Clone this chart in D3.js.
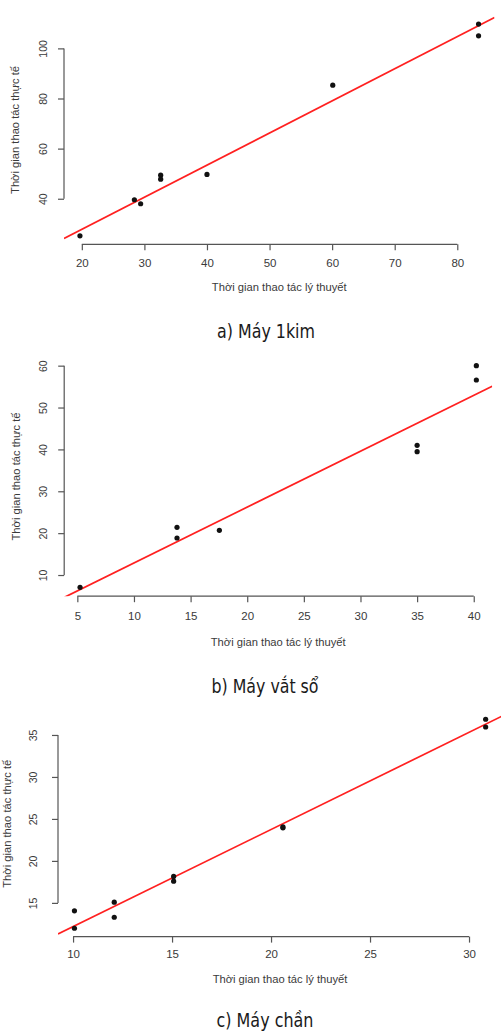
<!DOCTYPE html>
<html><head><meta charset="utf-8">
<script src="https://cdn.jsdelivr.net/npm/d3@7"></script>
<style>
html,body{margin:0;padding:0;background:#fff;}
svg{display:block;}
</style></head>
<body>
<svg id="chart" width="501" height="1033"></svg>
<script>
// ---------- data ----------
const xTitle = "Thời gian thao tác lý thuyết";
const yTitle = "Thời gian thao tác thực tế";
const captions = ["a) Máy 1kim", "b) Máy vắt sổ", "c) Máy chần"];

const xA = [19.7, 28.4, 29.4, 32.6, 32.6, 40.0, 60.1, 83.4, 83.4];
const yA = [25.2, 39.6, 38.0, 49.4, 47.8, 49.7, 85.3, 109.7, 105.0];
const fitA = [2.19, 1.281];            // intercept, slope
const xTicksA = [20, 30, 40, 50, 60, 70, 80];
const yTicksA = [40, 60, 80, 100];

const xB = [5.24, 13.8, 13.8, 17.54, 35.0, 35.0, 40.23, 40.23];
const yB = [7.06, 21.4, 18.84, 20.68, 40.98, 39.46, 60.0, 56.58];
const fitB = [-0.48, 1.335];
const xTicksB = [5, 10, 15, 20, 25, 30, 35, 40];
const yTicksB = [10, 20, 30, 40, 50, 60];

const xC = [10.07, 10.07, 12.08, 12.08, 15.08, 15.08, 20.6, 20.6, 30.84, 30.84];
const yC = [14.05, 11.98, 15.08, 13.29, 18.15, 17.59, 23.94, 24.05, 36.87, 35.95];
const fitC = [0.60, 1.157];
const xTicksC = [10, 15, 20, 25, 30];
const yTicksC = [15, 20, 25, 30, 35];

// ---------- layout ----------
const panels = [
  {x:xA, y:yA, fit:fitA, xt:xTicksA, yt:yTicksA, cap:captions[0],
   box:{l:64, r:494.5, t:15.6, b:244.3}, yLabX:43.3, yTitX:15, xLabY:262.7, xTitY:286.7, capY:338, capX:266, capW:98},
  {x:xB, y:yB, fit:fitB, xt:xTicksB, yt:yTicksB, cap:captions[1],
   box:{l:64.2, r:492.2, t:356.8, b:596.2}, yLabX:43.3, yTitX:16, xLabY:616, xTitY:642.3, capY:693, capX:265, capW:107},
  {x:xC, y:yC, fit:fitC, xt:xTicksC, yt:yTicksC, cap:captions[2],
   box:{l:58, r:502.1, t:710.9, b:936.6}, yLabX:33.3, yTitX:7, xLabY:954.3, xTitY:979.3, capY:1027, capX:265, capW:97}
];

const svg = d3.select("#chart");
const axisColor = "#555";
const textColor = "#3a3a3a";
const font = "'Liberation Sans', Arial, sans-serif";

function padded(arr){
  const [lo, hi] = d3.extent(arr);
  const d = (hi - lo) * 0.04;
  return [lo - d, hi + d];
}

panels.forEach((p, i) => {
  const b = p.box;
  const xs = d3.scaleLinear().domain(padded(p.x)).range([b.l, b.r]);
  const ys = d3.scaleLinear().domain(padded(p.y)).range([b.b, b.t]);
  const g = svg.append("g");

  // clip
  const cid = "clip" + i;
  svg.append("clipPath").attr("id", cid).append("rect")
    .attr("x", b.l).attr("y", b.t).attr("width", b.r - b.l).attr("height", b.b - b.t);

  // x axis
  const xa = g.append("g").attr("transform", `translate(0,${b.b})`)
    .call(d3.axisBottom(xs).tickValues(p.xt).tickSize(6).tickSizeOuter(0).tickFormat(d3.format("d")));
  xa.select(".domain").remove();
  xa.append("line").attr("x1", xs(p.xt[0])).attr("x2", xs(p.xt[p.xt.length-1]))
    .attr("stroke", axisColor).attr("stroke-width", 1.2);
  xa.selectAll(".tick line").attr("stroke", axisColor).attr("stroke-width", 1.2);
  xa.selectAll(".tick text").attr("y", p.xLabY - b.b).attr("dy", "0.35em")
    .attr("fill", textColor).attr("font-family", font).attr("font-size", 11.5);

  // y axis
  const ya = g.append("g").attr("transform", `translate(${b.l},0)`)
    .call(d3.axisLeft(ys).tickValues(p.yt).tickSize(6).tickSizeOuter(0).tickFormat(d3.format("d")));
  ya.select(".domain").remove();
  ya.append("line").attr("y1", ys(p.yt[0])).attr("y2", ys(p.yt[p.yt.length-1]))
    .attr("stroke", axisColor).attr("stroke-width", 1.2);
  ya.selectAll(".tick line").attr("stroke", axisColor).attr("stroke-width", 1.2);
  ya.selectAll(".tick text")
    .attr("x", null).attr("dy", null)
    .attr("transform", `translate(${p.yLabX - b.l},0) rotate(-90)`)
    .attr("text-anchor", "middle").attr("dominant-baseline", "central")
    .attr("fill", textColor).attr("font-family", font).attr("font-size", 10.5);

  // titles
  g.append("text").attr("x", (b.l + b.r) / 2).attr("y", p.xTitY)
    .attr("text-anchor", "middle").attr("dominant-baseline", "central")
    .attr("fill", textColor).attr("font-family", font).attr("font-size", 11.2)
    .text(xTitle);
  g.append("text")
    .attr("transform", `translate(${p.yTitX},${(b.t + b.b) / 2}) rotate(-90)`)
    .attr("text-anchor", "middle").attr("dominant-baseline", "central")
    .attr("fill", textColor).attr("font-family", font).attr("font-size", 11.2)
    .text(yTitle);

  // regression line
  const dom = xs.domain();
  const lineData = dom.map(v => [v, p.fit[0] + p.fit[1] * v]);
  g.append("path").attr("clip-path", `url(#${cid})`)
    .attr("d", d3.line().x(d => xs(d[0])).y(d => ys(d[1]))(lineData))
    .attr("stroke", "#ff2020").attr("stroke-width", 1.7).attr("fill", "none");

  // points
  g.selectAll("circle.pt").data(p.x.map((v, k) => [v, p.y[k]])).enter()
    .append("circle").attr("class", "pt")
    .attr("cx", d => xs(d[0])).attr("cy", d => ys(d[1])).attr("r", 2.6)
    .attr("fill", "#111");

  // caption
  svg.append("text").attr("x", p.capX).attr("y", p.capY)
    .attr("text-anchor", "middle")
    .attr("font-family", "'Liberation Sans Narrow', 'DejaVu Sans Condensed', 'Roboto', sans-serif")
    .attr("font-stretch", "condensed")
    .attr("font-size", 20).attr("fill", "#1a1a1a")
    .attr("textLength", p.capW).attr("lengthAdjust", "spacingAndGlyphs")
    .text(p.cap);
});
</script>
</body></html>
